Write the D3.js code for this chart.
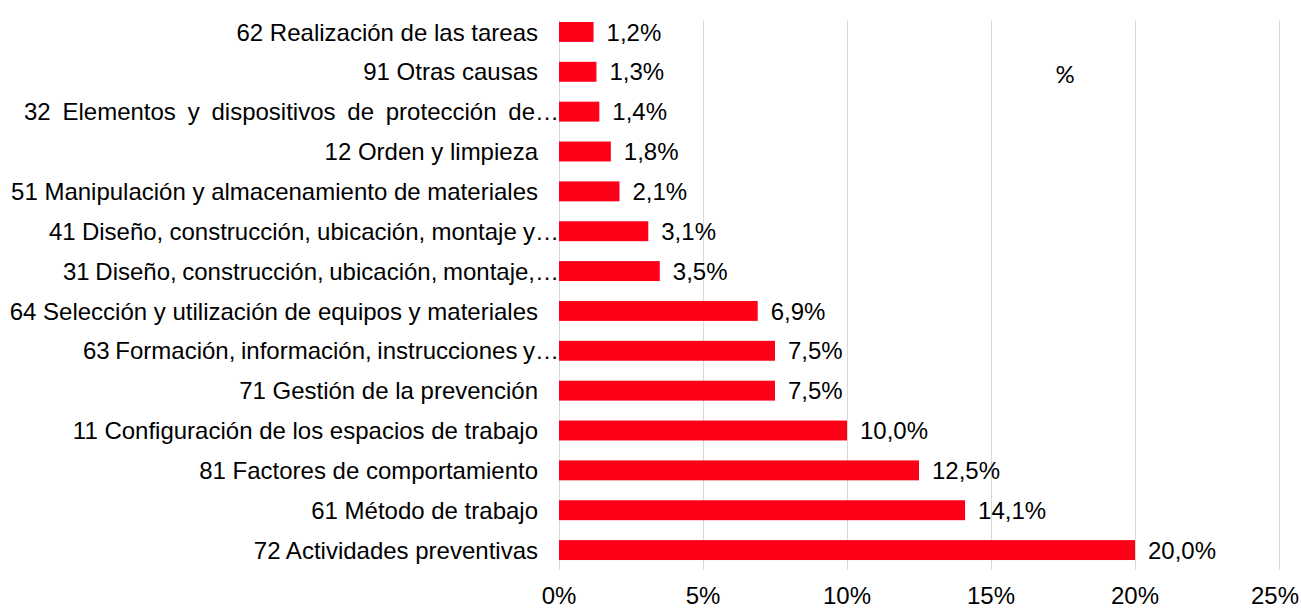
<!DOCTYPE html>
<html>
<head>
<meta charset="utf-8">
<script src="https://cdn.jsdelivr.net/npm/d3@7"></script>
<style>
  body { margin: 0; background: #fff; }
  svg { display: block; font-family: "Liberation Sans", Arial, sans-serif; }
</style>
</head>
<body>
<svg id="chart" width="1301" height="608"></svg>
<script>
// categories, top to bottom
var categories = [
  "62 Realización de las tareas",
  "91 Otras causas",
  "32 Elementos y dispositivos de protección de…",
  "12 Orden y limpieza",
  "51 Manipulación y almacenamiento de materiales",
  "41 Diseño, construcción, ubicación, montaje y…",
  "31 Diseño, construcción, ubicación, montaje,…",
  "64 Selección y utilización de equipos y materiales",
  "63 Formación, información, instrucciones y…",
  "71 Gestión de la prevención",
  "11 Configuración de los espacios de trabajo",
  "81 Factores de comportamiento",
  "61 Método de trabajo",
  "72 Actividades preventivas"
];
var values = [1.2, 1.3, 1.4, 1.8, 2.1, 3.1, 3.5, 6.9, 7.5, 7.5, 10.0, 12.5, 14.1, 20.0];
var xTicks = [0, 5, 10, 15, 20, 25];
var seriesName = "%";

// layout for the truncated (justified) labels: left edge where each starts
var justifiedStart = {
  "32 Elementos y dispositivos de protección de…": 24,
  "41 Diseño, construcción, ubicación, montaje y…": 49,
  "31 Diseño, construcción, ubicación, montaje,…": 63,
  "63 Formación, información, instrucciones y…": 83
};

var svg = d3.select('#chart');
var W = 1301;
var x0 = 559, x1 = 1279, yTop = 12, yBot = 570;
var fs = 24;

var x = d3.scaleLinear().domain([0, 25]).range([x0, x1]);
var y = d3.scaleBand().domain(categories).range([yTop, yBot]).paddingInner(0.5).paddingOuter(0.25);

// gridlines
svg.append('g').selectAll('line').data(xTicks).enter().append('line')
  .attr('x1', function(d){ return x(d) + 0.5; })
  .attr('x2', function(d){ return x(d) + 0.5; })
  .attr('y1', yTop + 8).attr('y2', yBot)
  .attr('stroke', '#d9d9d9').attr('stroke-width', 1);

// tick labels (keep the last one inside the page)
svg.append('g').selectAll('text').data(xTicks).enter().append('text')
  .attr('y', 604)
  .attr('text-anchor', 'middle')
  .attr('font-size', fs)
  .attr('fill', '#000')
  .text(function(d){ return d + '%'; })
  .attr('x', function(d){
    var half = this.getComputedTextLength() / 2;
    return Math.min(x(d), W - 2 - half);
  });

// bars
svg.append('g').selectAll('rect').data(values).enter().append('rect')
  .attr('x', x(0))
  .attr('y', function(d, i){ return y(categories[i]); })
  .attr('width', function(d){ return x(d) - x(0); })
  .attr('height', y.bandwidth())
  .attr('fill', '#ff0019');

// value labels
svg.append('g').selectAll('text').data(values).enter().append('text')
  .attr('x', function(d){ return x(d) + 13; })
  .attr('y', function(d, i){ return y(categories[i]) + y.bandwidth() / 2; })
  .attr('dy', '0.36em')
  .attr('font-size', fs)
  .attr('fill', '#000')
  .text(function(d){ return d.toFixed(1).replace('.', ',') + '%'; });

// category labels
svg.append('g').selectAll('text').data(categories).enter().append('text')
  .attr('y', function(d){ return y(d) + y.bandwidth() / 2; })
  .attr('dy', '0.36em')
  .attr('font-size', fs)
  .attr('fill', '#000')
  .attr('text-anchor', 'end')
  .attr('x', function(d){ return justifiedStart[d] != null ? x0 : 538; })
  .text(function(d){ return d; })
  .each(function(d){
    if (justifiedStart[d] == null) return;
    var el = d3.select(this);
    var natural = this.getComputedTextLength();
    var spaces = d.split(' ').length - 1;
    var extra = (x0 - justifiedStart[d]) - natural;
    if (spaces > 0) el.style('word-spacing', (extra / spaces) + 'px');
  });

// series label
svg.append('text')
  .attr('x', 1065).attr('y', 75)
  .attr('dy', '0.35em')
  .attr('text-anchor', 'middle')
  .attr('font-family', 'Lato, "Open Sans", sans-serif')
  .attr('font-size', 24)
  .attr('fill', '#000')
  .text(seriesName);
</script>
</body>
</html>
